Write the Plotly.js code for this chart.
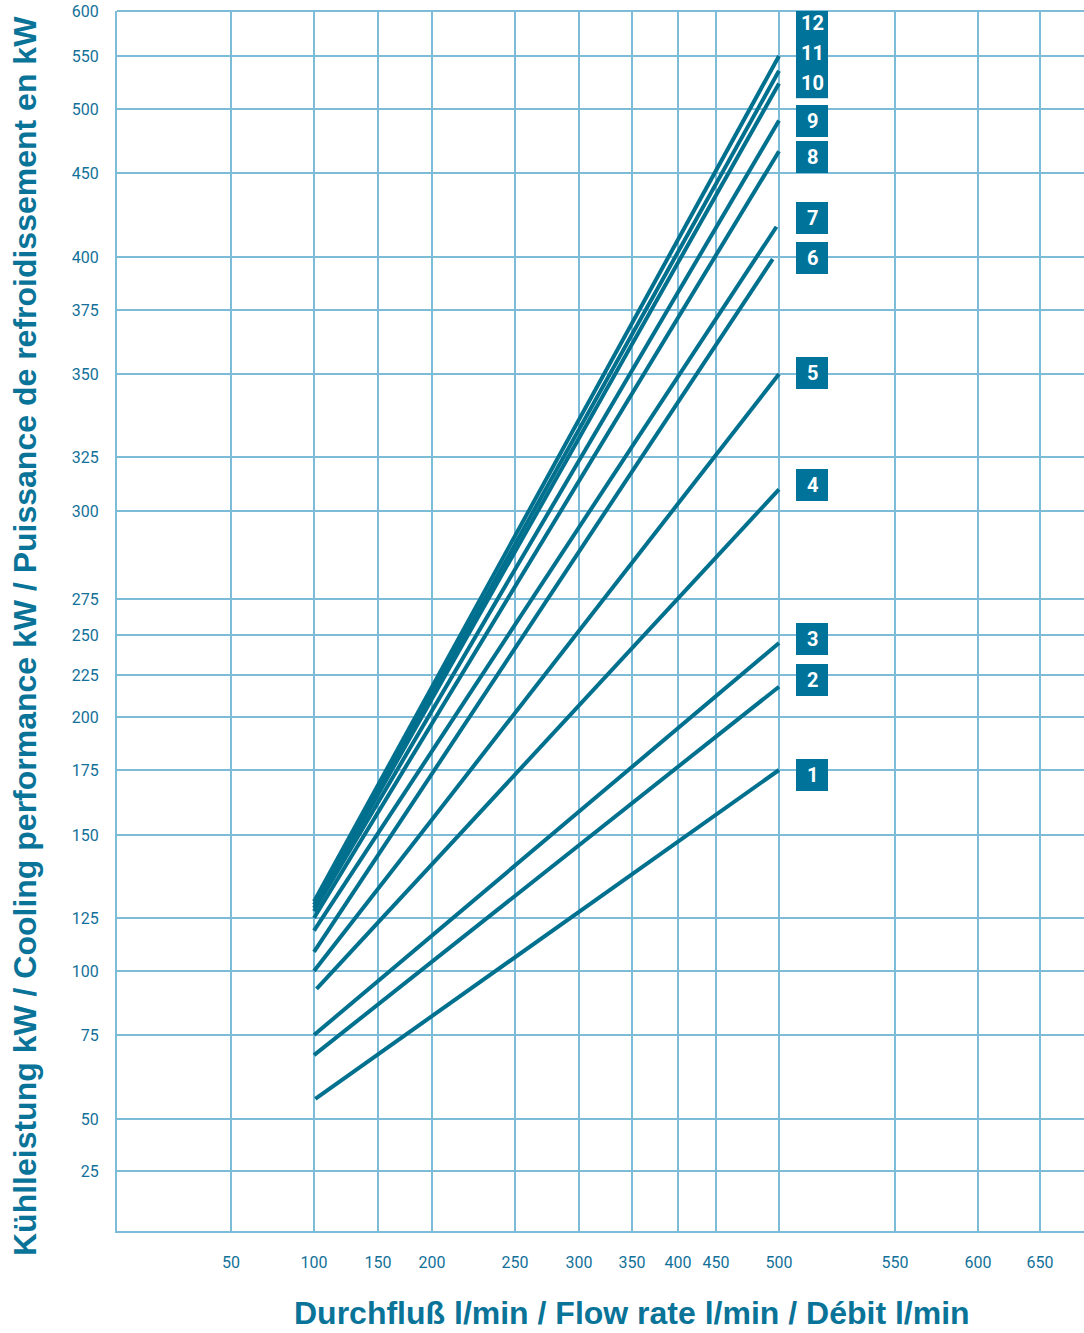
<!DOCTYPE html>
<html>
<head>
<meta charset="utf-8">
<script src="https://cdn.plot.ly/plotly-3.0.1.min.js"></script>
<style>html,body{margin:0;padding:0;background:#fff;}#chart{width:1084px;height:1333px;}</style>
</head>
<body>
<div id="chart"></div>
<script>
// ---- data ----
const seriesNames = ['1','2','3','4','5','6','7','8','9','10','11','12'];
const flowStart  = [101,100,100,102,100,100,100,100,100,100,100,100];
const flowEnd    = [500,500,500,500,500,495,498,500,500,500,500,500];
const powerStart = [56, 69, 75, 93, 100,109,119,125,127,128,129,130];
const powerEnd   = [175,218,245,310,350,399,418,467,491,524,536,550];

const flowTicks  = [50,100,150,200,250,300,350,400,450,500,550,600,650];
const powerTicks = [25,50,75,100,125,150,175,200,225,250,275,300,325,350,375,400,450,500,550,600];

// ---- irregular axis scale (pixel position of each grid line) ----
const flowTickPx  = [231,314,378,432,515,579,632,678,716,779,895,978,1040];
const powerTickPx = [1171,1119,1035,971,918,835,770,717,675,635,599,511,457,374,310,257,173,109,56,11];
const PLOT_L = 117, PLOT_R = 1084, PLOT_T = 11, PLOT_B = 1231;

function interp(v, vals, pos){
  for (let i=0;i<vals.length-1;i++){
    if (v>=vals[i] && v<=vals[i+1]){
      return pos[i] + (pos[i+1]-pos[i])*(v-vals[i])/(vals[i+1]-vals[i]);
    }
  }
  return v<vals[0]?pos[0]:pos[pos.length-1];
}
const flowPos  = f => interp(f, flowTicks, flowTickPx);               // u coordinate
const powerPos = p => PLOT_B - interp(p, powerTicks, powerTickPx);    // v coordinate

// label placement (pixel centers of the number boxes)
const labelCenterPx = [775,680,639,485,373,258,218,157,121,83,53,23];

const lineColor = '#00708f';
const boxColor  = '#00739a';
const gridColor = '#7dbcd9';
const textColor = '#137199';

const traces = seriesNames.map((n,i)=>({
  type:'scatter', mode:'lines', name:n,
  x:[flowPos(flowStart[i]), flowPos(flowEnd[i])],
  y:[powerPos(powerStart[i]), powerPos(powerEnd[i])],
  line:{color:lineColor, width:4},
  hoverinfo:'skip', showlegend:false
}));

const shapes = [];
const annotations = [];
// boxes: 10-12 form one tall box
seriesNames.forEach((n,i)=>{
  const c = labelCenterPx[i];
  const half = (i>=9)?15.2:16;
  shapes.push({type:'rect', xref:'x', yref:'y', x0:796, x1:828,
    y0:PLOT_B-(c-half), y1:PLOT_B-(c+half), fillcolor:boxColor, line:{width:0}, layer:'above'});
  annotations.push({xref:'x', yref:'y', x:812, y:PLOT_B-c, text:'<b>'+n+'</b>', showarrow:false,
    font:{family:'Roboto, Liberation Sans, sans-serif', size:20, color:'#ffffff'}, xanchor:'center', yanchor:'middle'});
});
// axis titles
const W = PLOT_R-PLOT_L, H = PLOT_B-PLOT_T;
annotations.push({xref:'paper', yref:'paper', x:(632-PLOT_L)/W, y:(PLOT_B-1313)/H,
  text:'<b>Durchfluß l/min / Flow rate l/min / Débit l/min</b>', showarrow:false,
  font:{family:'Liberation Sans, Arial, sans-serif', size:32, color:'#0a7398'}, xanchor:'center', yanchor:'middle'});
annotations.push({xref:'paper', yref:'paper', x:(25-PLOT_L)/W, y:(PLOT_B-636)/H,
  text:'<b>Kühlleistung kW / Cooling performance kW / Puissance de refroidissement en kW</b>', showarrow:false, textangle:-90,
  font:{family:'Liberation Sans, Arial, sans-serif', size:32, color:'#0a7398'}, xanchor:'center', yanchor:'middle'});

const layout = {
  width:1084, height:1333,
  margin:{l:PLOT_L, r:1084-PLOT_R, t:PLOT_T, b:1333-PLOT_B, pad:0},
  paper_bgcolor:'#ffffff', plot_bgcolor:'#ffffff',
  xaxis:{range:[PLOT_L, PLOT_R], tickmode:'array', tickvals:flowTickPx, ticktext:flowTicks.map(String),
    showgrid:true, gridcolor:gridColor, gridwidth:2, zeroline:false,
    showline:true, linecolor:gridColor, linewidth:2, ticks:'', ticklabelstandoff:16,
    tickfont:{family:'Roboto, Liberation Sans, sans-serif', size:16, color:textColor}, fixedrange:true},
  yaxis:{range:[0, PLOT_B-PLOT_T], tickmode:'array', tickvals:powerTickPx.map(p=>PLOT_B-p), ticktext:powerTicks.map(String),
    showgrid:true, gridcolor:gridColor, gridwidth:2, zeroline:false,
    showline:true, linecolor:gridColor, linewidth:2, ticks:'', ticklabelstandoff:13,
    tickfont:{family:'Roboto, Liberation Sans, sans-serif', size:16, color:textColor}, fixedrange:true},
  shapes:shapes.concat([{type:'line', xref:'paper', yref:'paper', x0:0, x1:1, y0:1, y1:1, line:{color:gridColor, width:2}, layer:'below'}]),
  annotations:annotations
};

Plotly.newPlot('chart', traces, layout, {displayModeBar:false, staticPlot:true});
</script>
</body>
</html>
